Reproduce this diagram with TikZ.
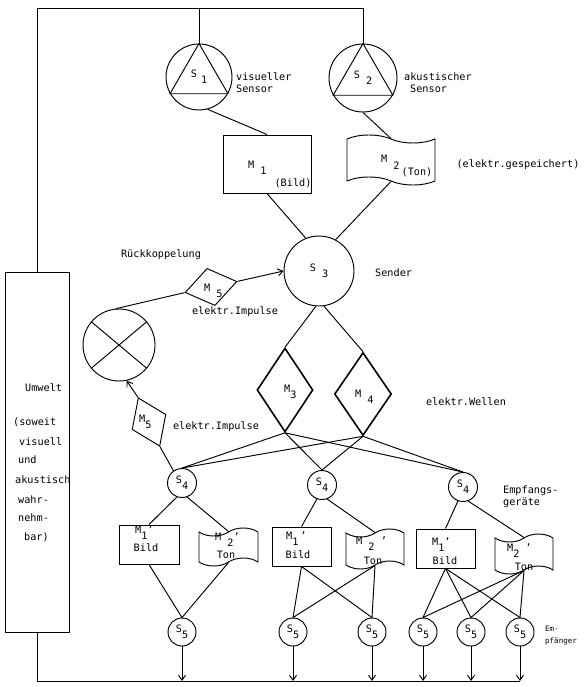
\documentclass[tikz,border=0pt]{standalone}
\usepackage{fontspec}
\setmainfont{DejaVu Sans Mono}
\usetikzlibrary{shapes.geometric,shapes.symbols,arrows.meta,calc}
\newcommand\lo[1]{\raisebox{-6pt}{#1}}
\begin{document}
\begin{tikzpicture}[x=1pt,y=-1pt,
  every node/.style={font=\fontsize{10.2}{12}\selectfont},
  ln/.style={line width=0.95pt},
  circ/.style={circle,draw,line width=0.95pt,inner sep=0pt},
  box/.style={rectangle,draw,line width=0.95pt,inner sep=0pt},
  tapebox/.style={tape,draw,line width=0.95pt,inner sep=0pt,tape bend height=8pt},
  rhomb/.style={diamond,draw,line width=0.95pt,inner sep=0pt},
  thickrhomb/.style={diamond,draw,line width=1.6pt,inner sep=0pt},
  txt/.style={inner sep=0pt},
  arr/.style={line width=0.95pt,-{Straight Barb[length=5pt,width=7pt]}},
]
\useasboundingbox (0,0) rectangle (588,687);
\coordinate (topy) at (0,8);
\coordinate (basey) at (0,681);

% sensors
\node[circ,minimum size=66pt] (S1) at (199,77) {S\kern4pt\lo{1}};
\node[circ,minimum size=68pt] (S2) at (363,78) {S \lo{2}};
\draw[ln] (S1.90) -- (S1.210) -- (S1.330) -- cycle;
\draw[ln] (S2.90) -- (S2.210) -- (S2.330) -- cycle;
\node[txt,anchor=west,align=left] (vis) at (236,83) {visueller\\Sensor};
\node[txt,anchor=west,align=left] (aku) at (404,83) {akustischer\\\hspace*{6pt}Sensor};

% M1, M2
\node[box,minimum width=88pt,minimum height=58pt] (M1) at (267,164) {};
\node[txt,anchor=base west] (M1t) at (248,168) {M \lo{1}};
\node[txt] (M1b) at (293,183) {(Bild)};
\node[tapebox,tape bend top=out and in,tape bend bottom=out and in,minimum width=88pt,minimum height=50pt] (M2) at (391,160) {};
\node[txt,anchor=base west] (M2t) at (381,163) {M \lo{2}};
\node[txt] (M2b) at (417,172) {(Ton)};
\node[txt] (gesp) at (518,165) {(elektr.gespeichert)};

% S3
\node[circ,minimum size=70pt] (S3) at (319,271) {S \lo{3}};
\node[txt,anchor=west] (send) at (375,273) {Sender};
\node[txt] (rk) at (161,255) {Rückkoppelung};

% feedback
\node[rhomb,minimum width=53pt,minimum height=38pt,rotate=12] (M5u) at (211,287) {};
\node[txt,anchor=base west] (M5ut) at (204,291) {M \lo{5}};
\node[txt] (imp1) at (235,312) {elektr.Impulse};
\node[circ,minimum size=72pt] (X) at (119,345) {};
\draw[ln] (X.40) -- (X.220) (X.140) -- (X.320);
\node[rhomb,minimum width=37pt,minimum height=53pt,rotate=24] (M5l) at (149,422) {};
\node[txt,anchor=base west] (M5lt) at (139,422) {M\lo{5}};
\node[txt] (imp2) at (216,427) {elektr.Impulse};

% M3, M4
\node[thickrhomb,minimum width=56pt,minimum height=84pt] (M3) at (285,390) {};
\node[txt,anchor=base west] (M3t) at (284,392) {M\lo{3}};
\node[thickrhomb,minimum width=57pt,minimum height=83pt] (M4) at (363,394) {};
\node[txt,anchor=base west] (M4t) at (355,397) {M \lo{4}};
\node[txt] (wel) at (466,402) {elektr.Wellen};

% S4
\node[circ,minimum size=29pt] (S4a) at (182,483) {S\lo{4}};
\node[circ,minimum size=29pt] (S4b) at (322,485) {S\lo{4}};
\node[circ,minimum size=29pt] (S4c) at (463,487) {S\lo{4}};
\node[txt,anchor=west,align=left] (emp) at (503,497) {Empfangs-\\geräte};

% M' row
\node[box,minimum width=60pt,minimum height=39pt] (m1p1) at (149,544.5) {};
\node[txt,anchor=base west] (m1p1t) at (135,533) {M\lo{1}'};
\node[txt] (m1p1b) at (146,548) {Bild};
\node[tapebox,minimum width=59pt,minimum height=38pt] (m2p1) at (228.5,547) {};
\node[txt,anchor=base west] (m2p1t) at (215,540) {M \lo{2}'};
\node[txt] (m2p1b) at (226,555) {Ton};

\node[box,minimum width=59pt,minimum height=39pt] (m1p2) at (301.5,546.5) {};
\node[txt,anchor=base west] (m1p2t) at (286,539) {M\lo{1}\kern2pt'};
\node[txt] (m1p2b) at (298,555) {Bild};
\node[tapebox,minimum width=58pt,minimum height=40pt] (m2p2) at (375,549) {};
\node[txt,anchor=base west] (m2p2t) at (356,544) {M \lo{2} '};
\node[txt] (m2p2b) at (373,561) {Ton};

\node[box,minimum width=59pt,minimum height=39pt] (m1p3) at (445.5,548.5) {};
\node[txt,anchor=base west] (m1p3t) at (432,545) {M\lo{1}'};
\node[txt] (m1p3b) at (445,561) {Bild};
\node[tapebox,minimum width=58pt,minimum height=40pt] (m2p3) at (524,554) {};
\node[txt,anchor=base west] (m2p3t) at (507,551) {M\lo{2}\hspace{6pt}'};
\node[txt] (m2p3b) at (524,567) {Ton};

% S5 row
\node[circ,minimum size=28pt] (S5a) at (182,632) {S\lo{5}};
\node[circ,minimum size=28pt] (S5b) at (293,632) {S\lo{5}};
\node[circ,minimum size=28pt] (S5c) at (372,632) {S\lo{5}};
\node[circ,minimum size=28pt] (S5d) at (423,632) {S\lo{5}};
\node[circ,minimum size=28pt] (S5e) at (471,632) {S\lo{5}};
\node[circ,minimum size=28pt] (S5f) at (520,632) {S\lo{5}};
\node[txt,anchor=west,align=left,font=\fontsize{7.5}{12}\selectfont] (empf) at (545,636) {Em-\\pfänger};

% Umwelt
\node[box,minimum width=64pt,minimum height=360pt] (U) at (37,452) {};
\node[txt,anchor=west] (u1) at (25,388) {Umwelt};
\node[txt,anchor=west] (u2) at (13,422) {(soweit};
\node[txt,anchor=west] (u3) at (19,442) {visuell};
\node[txt,anchor=west] (u4) at (18,460) {und};
\node[txt,anchor=west] (u5) at (15,480) {akustisch};
\node[txt,anchor=west] (u6) at (18,500) {wahr-};
\node[txt,anchor=west] (u7) at (18,518) {nehm-};
\node[txt,anchor=west] (u8) at (24,537) {bar)};

% frame lines
\draw[ln] (U.north) -- (U.north |- topy) -| (S2.north);
\draw[ln] (S1.north |- topy) -- (S1.north);
\draw[ln] (U.south) -- (U.south |- basey) -- (S5f.south |- basey);
\foreach \s in {S5a,S5b,S5c,S5d,S5e,S5f}
  \draw[arr] (\s.south) -- (\s.south |- basey);

% connectors
\draw[ln] (S1.-75) -- (M1.north);
\draw[ln] (S2.south) -- (M2.north);
\draw[ln] (M1.south) -- (S3.112);
\draw[ln] (M2.south) -- (S3.62);
\draw[arr] (M5u.east) -- (S3.west);
\draw[ln] (X.95) -- (M5u.west);
\draw[arr] (M5l.north) -- (X.282);
\draw[ln] (M5l.south) -- (S4a.125);
\draw[ln] (S3.265) -- (M3.north);
\draw[ln] (S3.278) -- (M4.north);
\foreach \t in {S4a,S4b,S4c} {
  \draw[ln] (M3.south) -- (\t.north);
  \draw[ln] (M4.south) -- (\t.north);
}
\draw[ln] (S4a.250) -- (m1p1.north);
\draw[ln] (S4a.290) -- (m2p1.north);
\draw[ln] (S4b.250) -- (m1p2.north);
\draw[ln] (S4b.290) -- (m2p2.north);
\draw[ln] (S4c.250) -- (m1p3.north);
\draw[ln] (S4c.290) -- (m2p3.north);

\draw[ln] (m1p1.south) -- (S5a.north);
\draw[ln] (m2p1.south) -- (S5a.north);
\foreach \t in {S5b,S5c} {
  \draw[ln] (m1p2.south) -- (\t.north);
  \draw[ln] (m2p2.south) -- (\t.north);
}
\foreach \t in {S5d,S5e,S5f} {
  \draw[ln] (m1p3.south) -- (\t.north);
  \draw[ln] (m2p3.south) -- (\t.north);
}
\end{tikzpicture}
\end{document}
